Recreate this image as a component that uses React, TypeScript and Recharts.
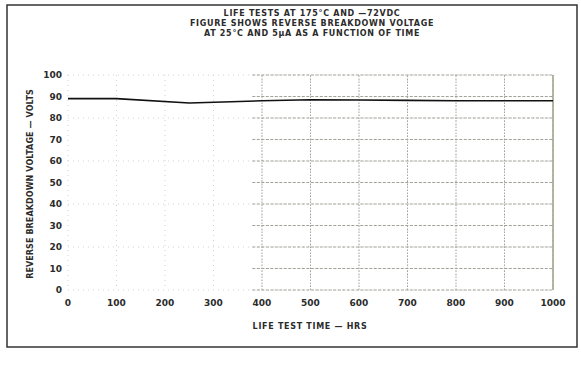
import { CartesianGrid, Line, LineChart, ReferenceLine, XAxis, YAxis } from "recharts";

// life test readings (hrs -> volts)
const hours = [0, 100, 250, 400, 500, 600, 700, 800, 900, 1000];
const volts = [89, 89, 87, 88, 88.5, 88.4, 88.2, 88, 88, 88];

const xTicks = [0, 100, 200, 300, 400, 500, 600, 700, 800, 900, 1000];
const yTicks = [0, 10, 20, 30, 40, 50, 60, 70, 80, 90, 100];
// the scanned grid only shows up clearly from ~400 hrs on
const darkCols = [400, 500, 600, 700, 800, 900];

const titleLines = [
  "LIFE TESTS AT 175°C AND —72VDC",
  "FIGURE SHOWS REVERSE BREAKDOWN VOLTAGE",
  "AT 25°C AND 5µA AS A FUNCTION OF TIME",
];

const ink = "#2b2b2b";
const font = "'DejaVu Sans', sans-serif";

export default function App() {
  const data = hours.map((h, i) => ({ h, v: volts[i] }));
  const tick = { fontSize: 9, fontWeight: 700, fill: ink, fontFamily: font };

  return (
    <div style={{ position: "absolute", left: 0, top: 0, width: 581, height: 369, background: "#fff" }}>
      <LineChart width={581} height={369} data={data} margin={{ top: 75, right: 28, left: 36, bottom: 59 }}>
        <CartesianGrid stroke="#d2d2d2" strokeDasharray="1 4" horizontalValues={yTicks} verticalValues={xTicks} />
        <XAxis
          dataKey="h"
          type="number"
          domain={[0, 1000]}
          ticks={xTicks}
          axisLine={false}
          tickLine={false}
          tick={tick}
          height={20}
          tickMargin={4}
        />
        <YAxis
          type="number"
          domain={[0, 100]}
          ticks={yTicks}
          axisLine={false}
          tickLine={false}
          tick={tick}
          width={32}
          tickMargin={0}
        />
        {yTicks.map((y) => (
          <ReferenceLine
            key={"h" + y}
            segment={[{ x: 380, y }, { x: 1000, y }]}
            stroke="#a2a29a"
            strokeDasharray="3 1.5"
            strokeWidth={1}
          />
        ))}
        {darkCols.map((x) => (
          <ReferenceLine key={"v" + x} x={x} stroke="#a5a59d" strokeDasharray="1.5 1.5" strokeWidth={1} />
        ))}
        <ReferenceLine x={1000} stroke="#8a9070" strokeWidth={1.3} />
        <Line
          type="linear"
          dataKey="v"
          stroke="#111"
          strokeWidth={1.6}
          dot={false}
          isAnimationActive={false}
        />
      </LineChart>
      <svg
        width={581}
        height={369}
        style={{ position: "absolute", left: 0, top: 0, pointerEvents: "none" }}
      >
        <rect x={7} y={5} width={570} height={342} fill="none" stroke="#333" strokeWidth={1.5} />
        {titleLines.map((t, i) => (
          <text
            key={i}
            x={312}
            y={16 + i * 10}
            textAnchor="middle"
            fontFamily={font}
            fontWeight={700}
            fontSize={8}
            letterSpacing={0.7}
            fill={ink}
          >
            {t}
          </text>
        ))}
        <text
          transform="translate(33,184) rotate(-90)"
          textAnchor="middle"
          fontFamily={font}
          fontWeight={700}
          fontSize={8}
          letterSpacing={0.1}
          fill={ink}
        >
          REVERSE BREAKDOWN VOLTAGE — VOLTS
        </text>
        <text
          x={310}
          y={329}
          textAnchor="middle"
          fontFamily={font}
          fontWeight={700}
          fontSize={8}
          letterSpacing={0.7}
          fill={ink}
        >
          LIFE TEST TIME — HRS
        </text>
      </svg>
    </div>
  );
}
